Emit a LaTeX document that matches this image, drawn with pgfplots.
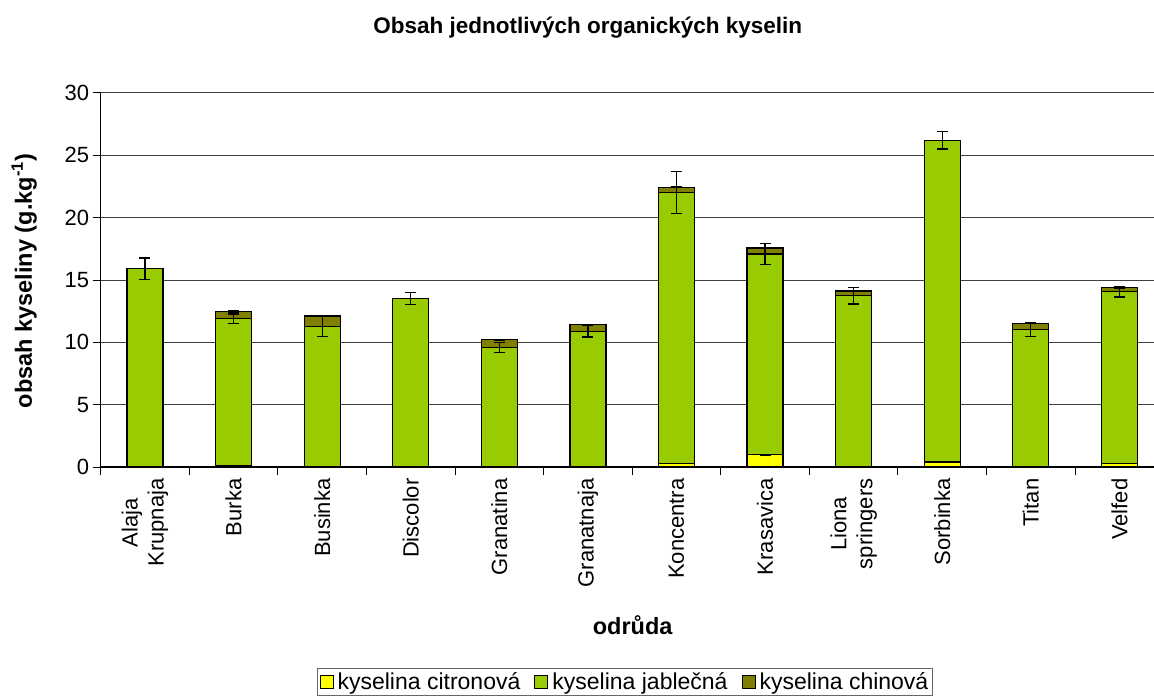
\documentclass[border=0pt]{standalone}
\usepackage{pgfplots}
\pgfplotsset{compat=1.18}
\usepackage{pgfplotstable}
\usepackage{fontspec}
\setmainfont{Liberation Sans}
\definecolor{cit}{HTML}{FFFF00}
\definecolor{jab}{HTML}{99CC00}
\definecolor{chi}{HTML}{808000}
\pgfplotstableread{
x cit citerr jab jaberr chi chierr
0  0.02 0.00 15.90 0.85 0.00 0.00
1  0.12 0.00 11.77 0.38 0.59 0.04
2  0.02 0.00 11.28 0.80 0.81 0.04
3  0.02 0.00 13.51 0.47 0.00 0.00
4  0.02 0.00  9.57 0.42 0.61 0.04
5  0.02 0.00 10.85 0.45 0.53 0.04
6  0.27 0.00 21.75 1.69 0.41 0.04
7  0.99 0.04 16.09 0.84 0.49 0.05
8  0.02 0.00 13.72 0.67 0.37 0.04
9  0.40 0.00 25.80 0.70 0.00 0.00
10 0.02 0.00 11.02 0.55 0.48 0.04
11 0.27 0.00 13.79 0.43 0.32 0.04
}\data
\begin{document}
\begin{tikzpicture}
\begin{axis}[
  at={(0pt,0pt)}, anchor=south west, scale only axis,
  width=1063pt, height=374pt,
  ybar stacked, bar width=36pt,
  xmin=-0.5, xmax=11.5, ymin=0, ymax=30,
  ytick={0,5,...,30},
  xtick={0,...,11},
  xticklabels={{Alaja\\Krupnaja},Burka,Businka,Discolor,Granatina,Granatnaja,Koncentra,Krasavica,{Liona\\springers},Sorbinka,Titan,Velfed},
  minor xtick={-0.5,0.5,...,11.5},
  major x tick style={draw=none},
  minor x tick style={black, line width=1pt},
  major y tick style={black, line width=1pt},
  major tick length=8pt, minor tick length=8pt,
  tick align=outside,
  axis x line*=bottom, axis y line*=left,
  axis line style={black, line width=1.2pt},
  ymajorgrids, grid style={black!75, line width=1pt},
  /pgf/number format/assume math mode=true,
  yticklabel style={font=\fontsize{22}{26}\selectfont},
  xticklabel style={font=\fontsize{22}{26}\selectfont, rotate=90, anchor=east, align=center},
  every axis plot/.append style={draw=black, line width=1.2pt},
  error bars/error bar style={black, line width=1.2pt},
  error bars/error mark options={rotate=90, mark size=5.5pt, line width=1.2pt, black},
  legend columns=3,
  legend style={at={(0.4932,-0.5749)}, anchor=center, draw=black!60, line width=0.8pt,
    font=\fontsize{23}{27}\selectfont, inner sep=2pt,
    /tikz/every odd column/.append style={column sep=2pt},
    /tikz/every even column/.append style={column sep=12pt}},
  legend image code/.code={\draw[#1, draw=black, line width=1pt] (0pt,-6.5pt) rectangle (13pt,6.5pt);},
]
\addplot[fill=cit, error bars/.cd, y dir=both, y explicit] table[x=x, y=cit, y error=citerr]{\data};
\addplot[fill=jab, error bars/.cd, y dir=both, y explicit] table[x=x, y=jab, y error=jaberr]{\data};
\addplot[fill=chi, error bars/.cd, y dir=both, y explicit] table[x=x, y=chi, y error=chierr]{\data};
\legend{kyselina citronová, kyselina jablečná, kyselina chinová}
\end{axis}
\node[font=\bfseries\fontsize{22.5}{26}\selectfont] at (487pt,439pt) {Obsah jednotlivých organických kyselin};
\node[font=\bfseries\fontsize{23.5}{28}\selectfont] at (532pt,-158pt) {odrůda};
\node[font=\bfseries\fontsize{23.5}{28}\selectfont, rotate=90] at (-76.5pt,186pt) {obsah kyseliny (g.kg\textsuperscript{-1})};
\pgfresetboundingbox
\useasboundingbox (-100.7pt,-231pt) rectangle (1053.3pt,467pt);
\end{tikzpicture}
\end{document}
